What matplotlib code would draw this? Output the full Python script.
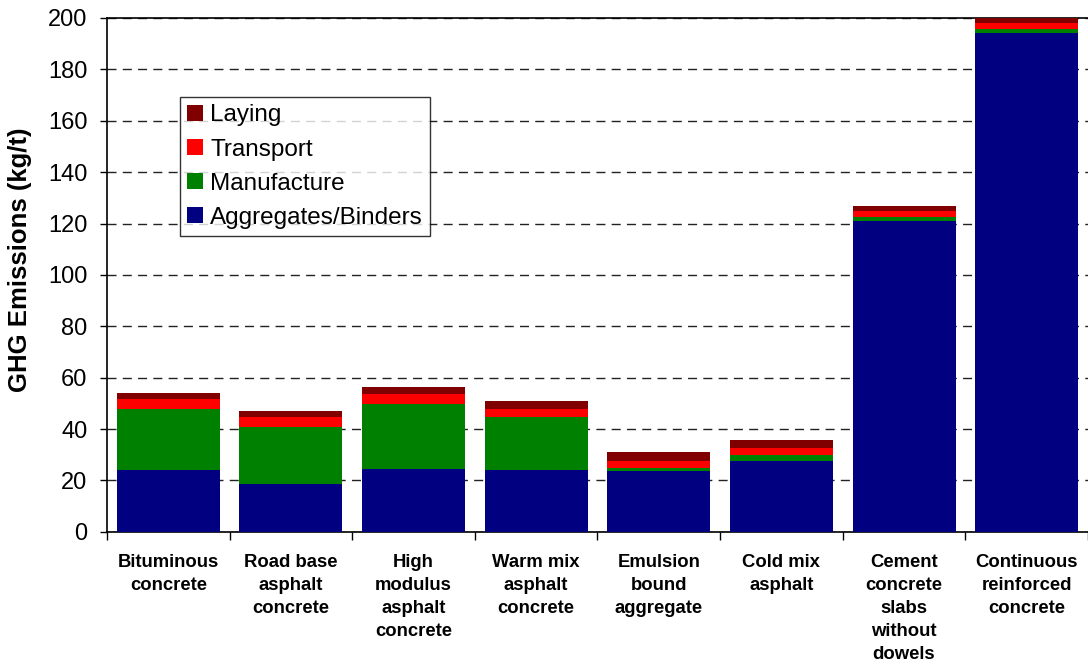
import numpy as np
import matplotlib
matplotlib.use('Agg')
import matplotlib.pyplot as plt

plt.rcParams['font.family'] = ['Liberation Sans', 'DejaVu Sans']

categories = ['Bituminous\nconcrete', 'Road base\nasphalt\nconcrete',
              'High\nmodulus\nasphalt\nconcrete', 'Warm mix\nasphalt\nconcrete',
              'Emulsion\nbound\naggregate', 'Cold mix\nasphalt',
              'Cement\nconcrete\nslabs\nwithout\ndowels',
              'Continuous\nreinforced\nconcrete']

# stacked components (kg/t)
aggregates = [23.9, 18.7, 24.5, 23.9, 23.7, 27.6, 120.8, 194.0]
manufacture = [23.8, 22.2, 25.3, 20.8, 1.3, 2.2, 1.8, 1.8]
transport = [4.1, 3.8, 4.0, 3.2, 2.6, 2.9, 2.1, 2.1]
laying = [2.3, 2.4, 2.4, 3.1, 3.3, 3.1, 2.3, 2.3]

series = [('Aggregates/Binders', aggregates, '#000080'),
          ('Manufacture', manufacture, '#008000'),
          ('Transport', transport, '#ff0000'),
          ('Laying', laying, '#800000')]

fig = plt.figure(figsize=(10.88, 6.64), dpi=100)
ax = fig.add_axes([0.0983, 0.199, 0.9017, 0.774])

x = np.arange(len(categories))
bottom = np.zeros(len(categories))
handles = []
for name, vals, col in series:
    b = ax.bar(x, vals, width=0.84, bottom=bottom, color=col, label=name,
               zorder=3)
    bottom += np.array(vals)
    handles.append(b)

ax.set_xlim(-0.5, len(categories) - 0.5)
ax.set_ylim(0, 200)
ax.set_yticks(np.arange(0, 201, 20))
ax.yaxis.grid(True, linestyle=(0, (6.5, 4.5)), color='#222222', linewidth=1,
              zorder=0)

# category labels centred, tick marks at boundaries
ax.set_xticks(x)
ax.set_xticklabels(categories, fontsize=13.3, fontweight='bold',
                   linespacing=1.46, va='top')
ax.tick_params(axis='x', which='major', length=0, pad=16)
ax.set_xticks(np.arange(-0.5, len(categories), 1), minor=True)
ax.tick_params(axis='x', which='minor', length=6, direction='out', width=1)
ax.tick_params(axis='y', labelsize=17, length=5, direction='out', width=1,
               pad=9)

for s in ['left', 'bottom', 'top']:
    ax.spines[s].set_linewidth(1.2)
ax.spines['right'].set_visible(False)

ax.set_ylabel('GHG Emissions (kg/t)', fontsize=18.5, fontweight='bold')
ax.yaxis.set_label_coords(-0.0765, 0.53)

leg = ax.legend(handles[::-1], [s[0] for s in series][::-1],
                loc='upper left', bbox_to_anchor=(0.074, 0.846),
                fontsize=17.5, frameon=True, fancybox=False, edgecolor='black',
                handlelength=0.66, handleheight=0.66, handletextpad=0.3,
                labelspacing=0.5, borderpad=0.3, borderaxespad=0)
leg.get_frame().set_linewidth(1)
leg.set_zorder(5)

plt.savefig('out.png', dpi=100)
